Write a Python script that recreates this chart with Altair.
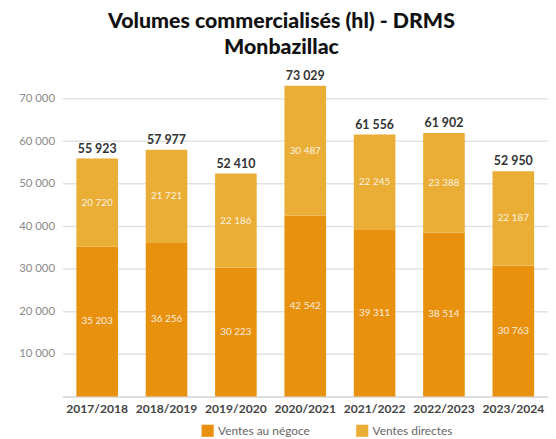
import altair as alt
import pandas as pd

years = ["2017/2018", "2018/2019", "2019/2020", "2020/2021", "2021/2022", "2022/2023", "2023/2024"]
negoce = [35203, 36256, 30223, 42542, 39311, 38514, 30763]
directes = [20720, 21721, 22186, 30487, 22245, 23388, 22187]
totals = [55923, 57977, 52410, 73029, 61556, 61902, 52950]
series = ["Ventes au négoce", "Ventes directes"]
colors = ["#E8910F", "#EAAE36"]
y_ticks = [10000, 20000, 30000, 40000, 50000, 60000, 70000]

rows = []
for i, yr in enumerate(years):
    rows.append({"year": yr, "serie": series[0], "value": negoce[i], "ord": 0})
    rows.append({"year": yr, "serie": series[1], "value": directes[i], "ord": 1})
df = pd.DataFrame(rows)
tot_df = pd.DataFrame({"year": years, "total": totals})

FONT = "Lato"
fmt = "replace(format(datum.value, ','), ',', ' ')"

xenc = alt.X(
    "year:N", sort=years, title=None,
    scale=alt.Scale(paddingInner=0.4, paddingOuter=0.2),
    axis=alt.Axis(labelAngle=0, labelFont=FONT, labelFontSize=12.2, labelFontWeight="bold",
                  labelColor="#444444", ticks=False, domainColor="#dddddd", domainWidth=2,
                  labelPadding=6),
)
yscale = alt.Scale(domain=[0, 75000], nice=False)
yaxis = alt.Axis(values=y_ticks, grid=True, gridColor="#e2e2e2", gridWidth=1.5, domain=False,
                 ticks=False, labelPadding=8, labelColor="#8a8a8a", labelFont=FONT,
                 labelFontSize=11.5, labelExpr=fmt)

bars = alt.Chart(df).mark_bar().encode(
    x=xenc,
    y=alt.Y("value:Q", stack="zero", scale=yscale, axis=yaxis, title=None),
    color=alt.Color("serie:N", scale=alt.Scale(domain=series, range=colors),
                    legend=alt.Legend(title=None, orient="none", legendX=140, legendY=350,
                                      direction="horizontal", symbolType="square",
                                      symbolSize=150, symbolStrokeWidth=0,
                                      labelFont=FONT, labelFontSize=12, labelColor="#666666",
                                      columnPadding=46)),
    order=alt.Order("ord:Q"),
)

seg = alt.Chart(df).transform_stack(
    stack="value", groupby=["year"], as_=["v0", "v1"], sort=[alt.SortField("ord", order="ascending")]
).transform_calculate(
    mid="(datum.v0 + datum.v1) / 2", lab=fmt
).mark_text(color="white", fontSize=10, font=FONT, opacity=0.85).encode(
    x=xenc,
    y=alt.Y("mid:Q", scale=yscale, axis=yaxis, title=None),
    text="lab:N",
)

tot = alt.Chart(tot_df).transform_calculate(
    lab="replace(format(datum.total, ','), ',', ' ')"
).mark_text(baseline="bottom", dy=-3, fontWeight="bold", fontSize=12.5, font=FONT,
            color="#333333").encode(
    x=xenc,
    y=alt.Y("total:Q", scale=yscale, axis=yaxis, title=None),
    text="lab:N",
)

chart = alt.layer(bars, seg, tot).properties(
    width=490, height=322,
    autosize=alt.AutoSizeParams(type="none"),
    padding={"left": 55, "top": 68, "right": 0, "bottom": 41},
    title=alt.TitleParams(["Volumes commercialisés (hl) - DRMS", "Monbazillac"],
                          font=FONT, fontSize=21.5, fontWeight=900, color="#111111",
                          anchor="middle", frame="group", dx=-24, offset=12, lineHeight=26),
).configure_view(stroke=None)

chart.save("out.html", embed_options={"renderer": "svg", "actions": False})
